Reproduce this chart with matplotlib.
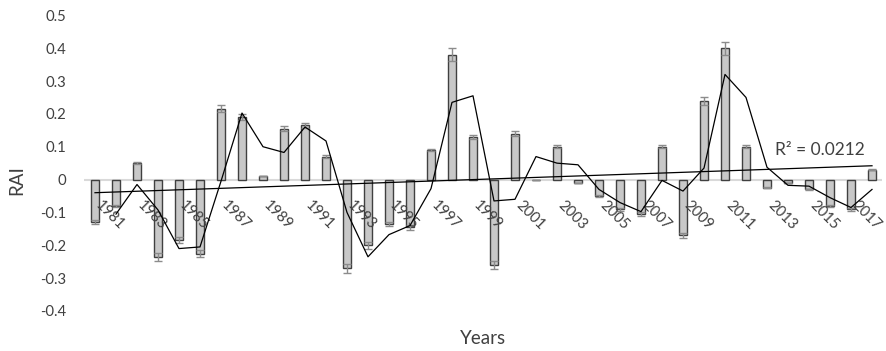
import numpy as np
import matplotlib.pyplot as plt

plt.rcParams['font.family'] = ['Lato', 'DejaVu Sans']

# rainfall anomaly index per year
years = list(range(1981, 2019))
rai = [-0.13, -0.08, 0.05, -0.235, -0.185, -0.225, 0.215, 0.19, 0.01, 0.155,
       0.165, 0.07, -0.27, -0.20, -0.135, -0.145, 0.09, 0.38, 0.13, -0.26,
       0.14, 0.00, 0.10, -0.01, -0.05, -0.09, -0.105, 0.10, -0.17, 0.24,
       0.40, 0.10, -0.025, -0.01, -0.03, -0.08, -0.09, 0.03]
yticks = [0.5, 0.4, 0.3, 0.2, 0.1, 0, -0.1, -0.2, -0.3, -0.4]
r2_label = 'R² = 0.0212'

txt = '#404040'
x = np.arange(len(years))
vals = np.array(rai)
err = np.abs(vals) * 0.05

fig = plt.figure(figsize=(8.87, 3.51), dpi=100)
ax = fig.add_axes([84.5 / 887, 1 - 311 / 351, 798 / 887, (311 - 15.3) / 351])

ax.axhline(0, color='#d9d9d9', lw=1.5, zorder=1)
ax.bar(x, vals, width=0.38, color='#c8c8c8', edgecolor='#404040', linewidth=1.0, zorder=2)
ax.errorbar(x, vals, yerr=err, fmt='none', ecolor='#8c8c8c', elinewidth=1,
            capsize=3.2, capthick=1, zorder=3)

# 2 period moving average
ma = (vals[1:] + vals[:-1]) / 2
ax.plot(x[1:], ma, color='black', lw=0.9, zorder=4)

# linear trend
k, b = np.polyfit(x, vals, 1)
ax.plot([x[0], x[-1]], [k * x[0] + b, k * x[-1] + b], color='black', lw=0.9, zorder=4)
ax.text(32.4, 0.09, r2_label, fontsize=12.5, color=txt, va='center', ha='left')

ax.set_xlim(-0.5, len(years) - 0.5)
ax.set_ylim(-0.4, 0.5)
ax.set_yticks(yticks)
ax.set_yticklabels([f'{t:g}' for t in yticks], fontsize=10.7, color=txt)
ax.tick_params(axis='y', length=0, pad=13)
ax.set_xticks([])
for i, yr in enumerate(years):
    if i % 2 == 0:
        ax.annotate(str(yr), xy=(i, 0), xytext=(2, -17), textcoords='offset points',
                    rotation=-45, rotation_mode='anchor', ha='left', va='center',
                    fontsize=10.7, color=txt)

for s in ax.spines.values():
    s.set_visible(False)

fig.text(16.7 / 887, 1 - 180 / 351, 'RAI', rotation=90, fontsize=13.5, color=txt,
         ha='center', va='center')
fig.text(483 / 887, 1 - 338 / 351, 'Years', fontsize=13.5, color=txt,
         ha='center', va='center')

fig.savefig('out.png', dpi=100)
